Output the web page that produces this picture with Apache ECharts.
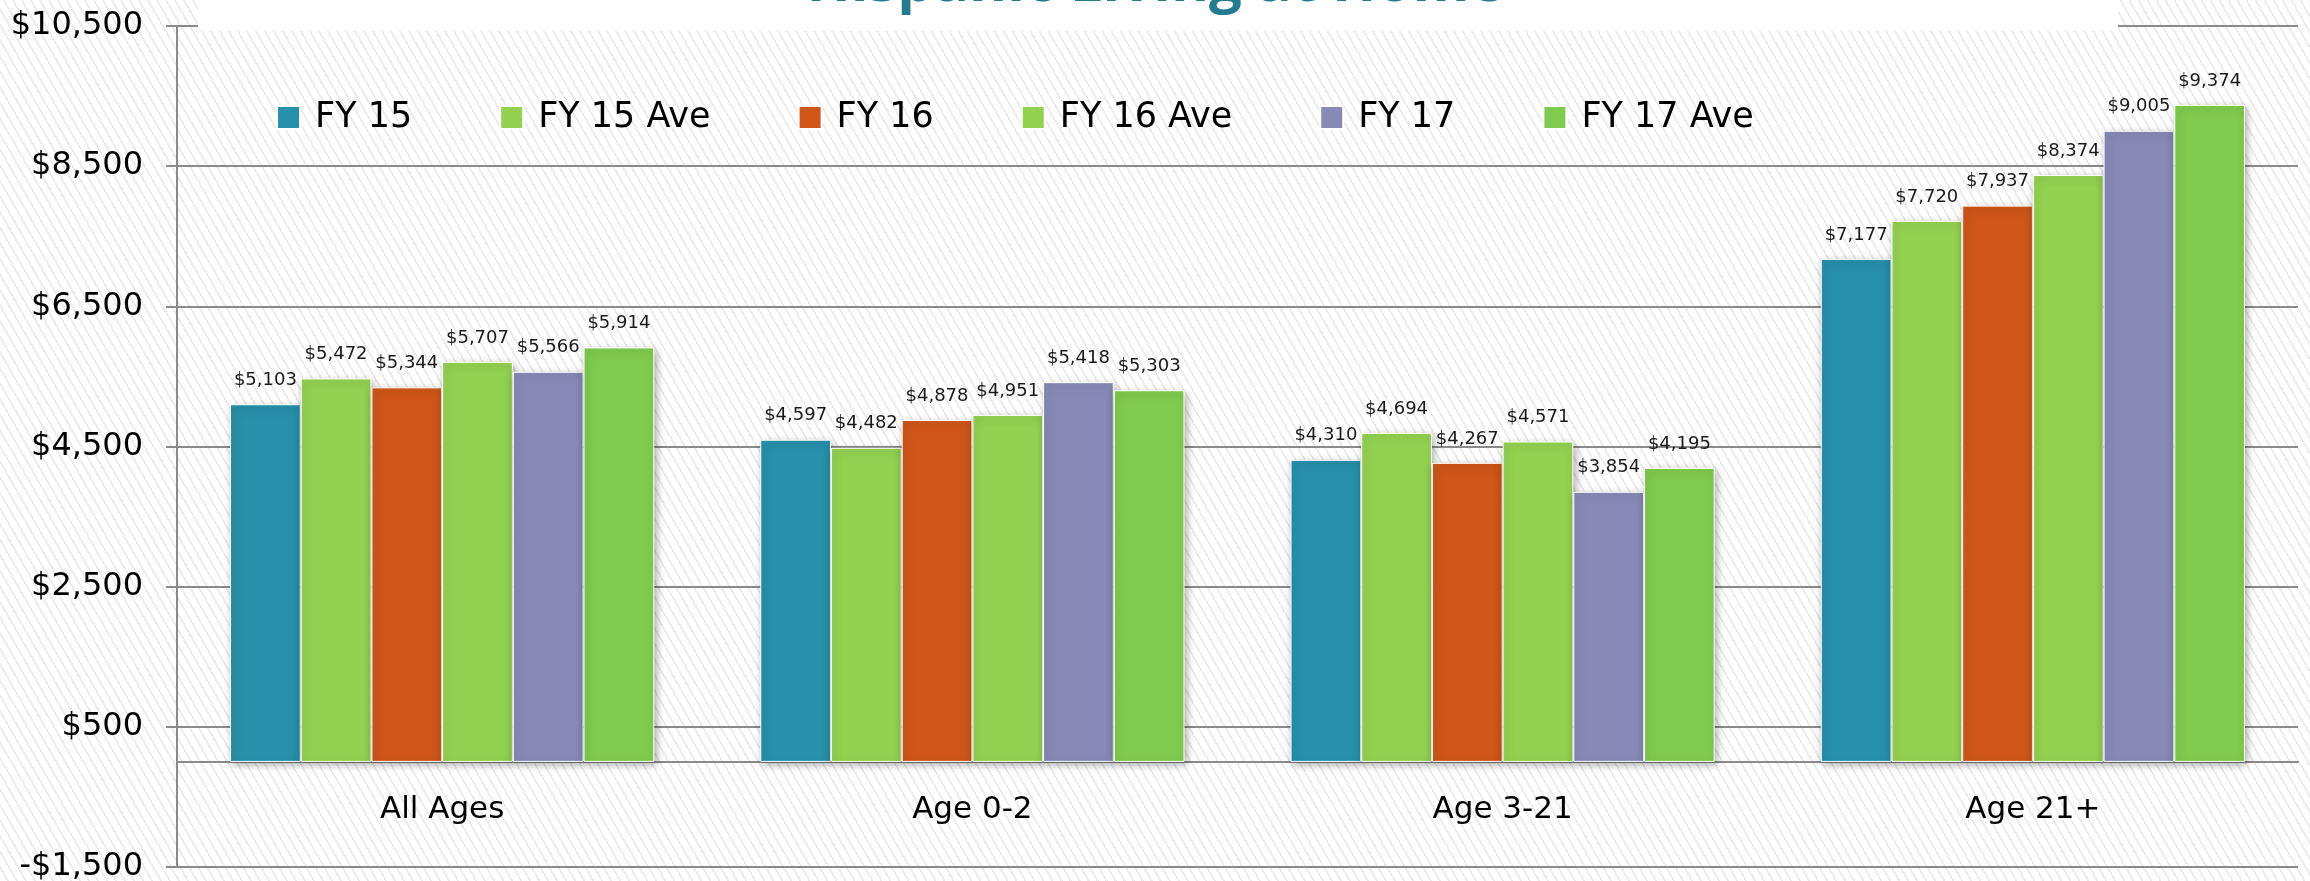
<!DOCTYPE html>
<html>
<head>
<meta charset="utf-8">
<script src="https://cdn.jsdelivr.net/npm/echarts@6/dist/echarts.min.js"></script>
<style>
  html, body { margin: 0; padding: 0; }
  body {
    background: #fff repeating-linear-gradient(60deg, #fff 0px, #fff 6px, #ebebeb 6px, #ebebeb 7.8px);
  }
  #main { width: 2310px; height: 881px; }
</style>
</head>
<body>
<div id="main"></div>
<script>
const categories = ['All Ages', 'Age 0-2', 'Age 3-21', 'Age 21+'];
const seriesNames = ['FY 15', 'FY 15 Ave', 'FY 16', 'FY 16 Ave', 'FY 17', 'FY 17 Ave'];
const fy15 = [5103, 4597, 4310, 7177];
const fy15Ave = [5472, 4482, 4694, 7720];
const fy16 = [5344, 4878, 4267, 7937];
const fy16Ave = [5707, 4951, 4571, 8374];
const fy17 = [5566, 5418, 3854, 9005];
const fy17Ave = [5914, 5303, 4195, 9374];
const colors = ['#2790ab', '#93d150', '#cf5618', '#93d150', '#8789b6', '#7fcb4e'];

const money = v => (v < 0 ? '-$' : '$') + Math.abs(v).toLocaleString('en-US');
const font = 'DejaVu Sans';

const chart = echarts.init(document.getElementById('main'));

const values = [fy15, fy15Ave, fy16, fy16Ave, fy17, fy17Ave];
const series = values.map((data, i) => ({
  name: seriesNames[i],
  type: 'bar',
  data: data,
  barGap: '0%',
  barCategoryGap: '20%',
  itemStyle: {
    color: colors[i],
    borderColor: '#fff',
    borderWidth: 1,
    shadowBlur: 8,
    shadowOffsetX: 2,
    shadowOffsetY: 3,
    shadowColor: 'rgba(0,0,0,0.35)'
  },
  label: {
    show: true,
    position: 'top',
    distance: 15,
    fontFamily: font,
    fontSize: 18,
    color: '#1a1a1a',
    formatter: p => money(p.value)
  }
}));

chart.setOption({
  animation: false,
  backgroundColor: 'transparent',
  color: colors,
  title: {
    text: 'Hispanic Living at Home',
    left: 'center',
    top: -45,
    padding: 0,
    z: 10,
    textStyle: { fontFamily: 'Open Sans', fontWeight: 'bold', fontSize: 58, color: '#237b8e' }
  },
  graphic: [{
    type: 'rect',
    z: 5,
    shape: { x: 198, y: 0, width: 1920, height: 31 },
    style: { fill: '#fff' }
  }],
  legend: {
    data: seriesNames,
    left: 276,
    top: 100,
    padding: 0,
    icon: 'rect',
    itemWidth: 23,
    itemHeight: 23,
    itemGap: 87,
    textStyle: { fontFamily: font, fontSize: 35, color: '#000', padding: [0, 0, 0, 10] }
  },
  grid: { left: 177, right: 12, top: 26, bottom: 14, containLabel: false, outerBoundsMode: 'none' },
  xAxis: {
    type: 'category',
    data: categories,
    position: 'bottom',
    // the axis sits on the zero line, 1500 units above the grid bottom
    offset: -105,
    axisTick: { show: false },
    axisLine: { show: true, onZero: false, lineStyle: { color: '#8a8a8a', width: 2 } },
    axisLabel: { margin: 32, fontFamily: font, fontSize: 31, color: '#000' }
  },
  yAxis: {
    type: 'value',
    min: -1500,
    max: 10500,
    interval: 2000,
    axisLine: { show: true, lineStyle: { color: '#8a8a8a', width: 2 } },
    axisTick: { show: true, length: 11, lineStyle: { color: '#8a8a8a', width: 2 } },
    splitLine: { show: true, lineStyle: { color: '#8a8a8a', width: 2 } },
    axisLabel: {
      margin: 34,
      fontFamily: font,
      fontSize: 32,
      color: '#000',
      padding: [0, 0, 10, 0],
      formatter: money
    }
  },
  series: series
});
</script>
</body>
</html>
